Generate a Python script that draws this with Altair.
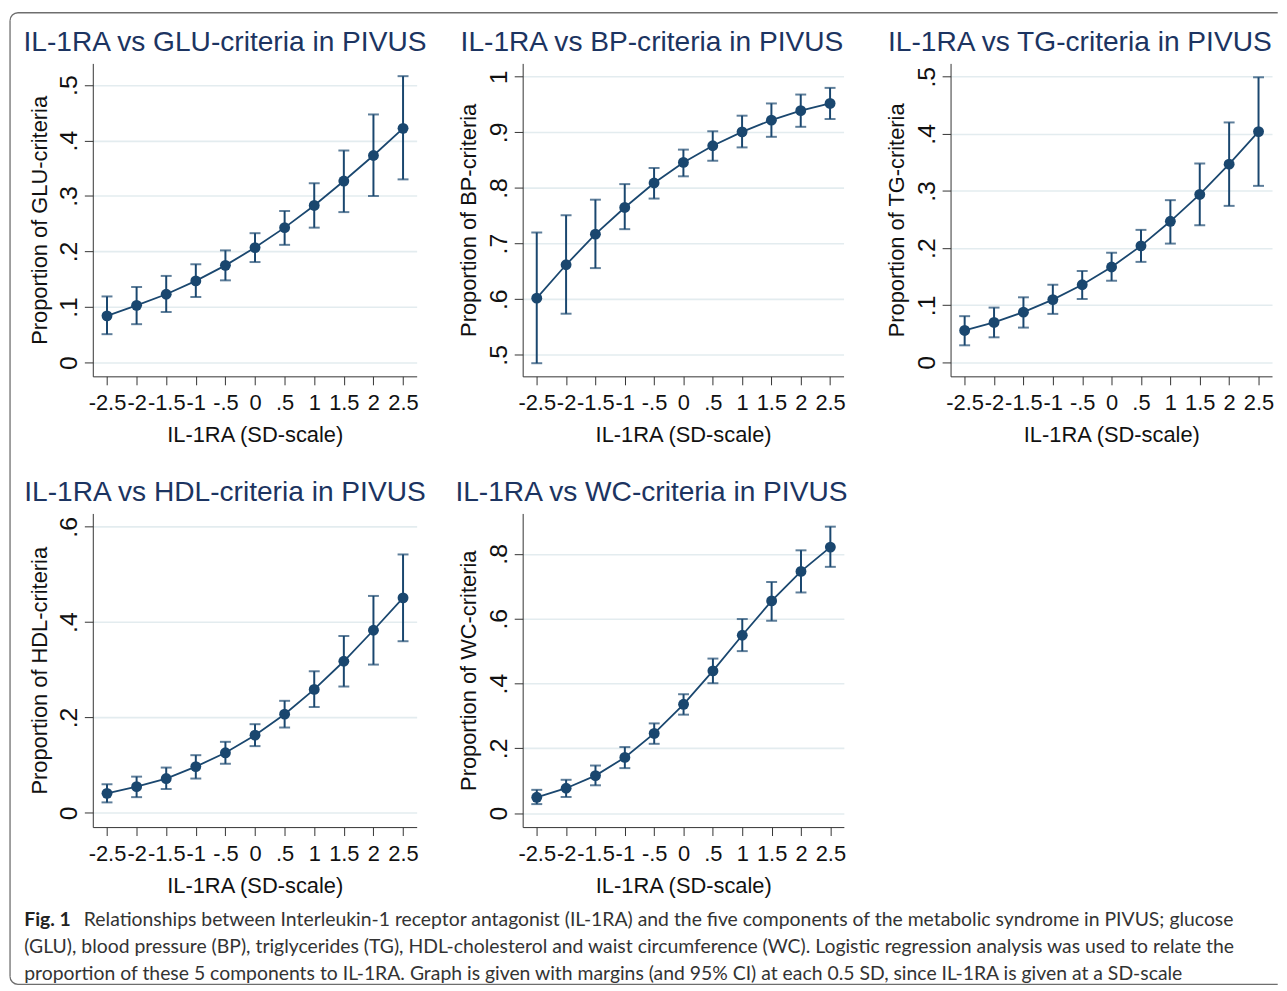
import math
import altair as alt
import pandas as pd

# ---------------- data ----------------
sd_levels = [-2.5, -2.0, -1.5, -1.0, -0.5, 0.0, 0.5, 1.0, 1.5, 2.0, 2.5]

glu_p  = [0.084, 0.103, 0.123, 0.147, 0.175, 0.207, 0.243, 0.283, 0.327, 0.373, 0.422]
glu_lo = [0.051, 0.069, 0.091, 0.118, 0.148, 0.181, 0.212, 0.243, 0.271, 0.300, 0.330]
glu_hi = [0.119, 0.136, 0.156, 0.177, 0.202, 0.233, 0.273, 0.323, 0.382, 0.447, 0.516]

bp_p  = [0.602, 0.662, 0.717, 0.765, 0.809, 0.846, 0.876, 0.901, 0.922, 0.939, 0.952]
bp_lo = [0.485, 0.574, 0.656, 0.726, 0.781, 0.821, 0.849, 0.873, 0.892, 0.910, 0.924]
bp_hi = [0.720, 0.751, 0.779, 0.807, 0.836, 0.869, 0.902, 0.930, 0.952, 0.968, 0.980]

tg_p  = [0.056, 0.070, 0.088, 0.110, 0.136, 0.167, 0.204, 0.247, 0.294, 0.347, 0.404]
tg_lo = [0.030, 0.044, 0.061, 0.085, 0.111, 0.143, 0.176, 0.208, 0.240, 0.274, 0.309]
tg_hi = [0.081, 0.096, 0.114, 0.136, 0.160, 0.192, 0.232, 0.284, 0.348, 0.420, 0.499]

hdl_p  = [0.041, 0.055, 0.072, 0.097, 0.126, 0.163, 0.207, 0.259, 0.318, 0.383, 0.451]
hdl_lo = [0.022, 0.033, 0.050, 0.072, 0.103, 0.140, 0.179, 0.222, 0.265, 0.311, 0.360]
hdl_hi = [0.060, 0.076, 0.095, 0.121, 0.149, 0.186, 0.235, 0.297, 0.371, 0.455, 0.542]

wc_p  = [0.049, 0.077, 0.116, 0.172, 0.246, 0.336, 0.439, 0.549, 0.655, 0.746, 0.821]
wc_lo = [0.028, 0.050, 0.086, 0.139, 0.214, 0.304, 0.401, 0.500, 0.594, 0.681, 0.760]
wc_hi = [0.072, 0.103, 0.147, 0.204, 0.277, 0.367, 0.477, 0.599, 0.713, 0.811, 0.884]

x_ticks = [-2.5, -2.0, -1.5, -1.0, -0.5, 0.0, 0.5, 1.0, 1.5, 2.0, 2.5]

caption_bold = "Fig. 1"
caption_lines = [
    "Relationships between Interleukin-1 receptor antagonist (IL-1RA) and the five components of the metabolic syndrome in PIVUS; glucose",
    "(GLU), blood pressure (BP), triglycerides (TG), HDL-cholesterol and waist circumference (WC). Logistic regression analysis was used to relate the",
    "proportion of these 5 components to IL-1RA. Graph is given with margins (and 95% CI) at each 0.5 SD, since IL-1RA is given at a SD-scale",
]

# ---------------- styling ----------------
NAVY = "#1a476f"
TITLE_COL = "#1c3461"
FONT = "Liberation Sans"
CAP_FONT = "Lato"
CAP_SIZE = 19.5
LABEL_EXPR = "(datum.value < 0 ? '-' : '') + replace('' + abs(datum.value), '0.', '.')"


def panel(name, p, lo, hi, y_domain, y_values, width, height, title_dx):
    df = pd.DataFrame({"x": sd_levels, "p": p, "lo": lo, "hi": hi})
    xaxis = alt.Axis(
        values=x_ticks, labelExpr=LABEL_EXPR, grid=False,
        labelFont=FONT, labelFontSize=22, labelColor="#111", labelPadding=8,
        labelOverlap=False, labelFlush=False,
        tickSize=8.5, tickColor="#333", domainColor="#333",
        title="IL-1RA (SD-scale)", titleFont=FONT, titleFontSize=22,
        titleFontWeight="normal", titleColor="#111", titlePadding=11.5,
    )
    yaxis = alt.Axis(
        values=y_values, labelExpr=LABEL_EXPR, grid=True, gridColor="#e3ecef", gridWidth=1.6,
        labelAngle=-90, labelFont=FONT, labelFontSize=25, labelColor="#111", labelPadding=2.5,
        labelOverlap=False, labelFlush=False,
        tickSize=8.5, tickColor="#333", domainColor="#333",
        title=f"Proportion of {name}-criteria", titleFont=FONT, titleFontSize=22,
        titleFontWeight="normal", titleColor="#111", titlePadding=6,
    )
    xs = alt.Scale(domain=[-2.74, 2.73], nice=False, zero=False)
    ys = alt.Scale(domain=y_domain, nice=False, zero=False)

    def X():
        return alt.X("x:Q", scale=xs, axis=xaxis, title="IL-1RA (SD-scale)")

    def Y(field):
        return alt.Y(f"{field}:Q", scale=ys, axis=yaxis, title=f"Proportion of {name}-criteria")

    base = alt.Chart(df)
    bars = base.mark_rule(color=NAVY, strokeWidth=2).encode(x=X(), y=Y("lo"), y2="hi:Q")
    cap_lo = base.mark_tick(color=NAVY, orient="horizontal", size=11, thickness=2).encode(x=X(), y=Y("lo"))
    cap_hi = base.mark_tick(color=NAVY, orient="horizontal", size=11, thickness=2).encode(x=X(), y=Y("hi"))
    line = base.mark_line(color=NAVY, strokeWidth=1.8).encode(x=X(), y=Y("p"))
    pts = base.mark_circle(color=NAVY, opacity=1, size=120).encode(x=X(), y=Y("p"))
    return alt.layer(bars, cap_lo, cap_hi, line, pts).properties(
        width=width, height=height,
        title=alt.TitleParams(
            f"IL-1RA vs {name}-criteria in PIVUS", anchor="start", frame="group",
            dx=title_dx, dy=27.4, font=FONT, fontSize=28.3, fontWeight="normal", color=TITLE_COL,
            baseline="alphabetic", offset=11.6,
        ),
    )


p_glu = panel("GLU", glu_p, glu_lo, glu_hi, [-0.025, 0.539], [0, 0.1, 0.2, 0.3, 0.4, 0.5], 326, 315, -69.8)
p_bp = panel("BP", bp_p, bp_lo, bp_hi, [0.4614, 1.024], [0.5, 0.6, 0.7, 0.8, 0.9, 1.0], 323, 315, -62.5)
p_tg = panel("TG", tg_p, tg_lo, tg_hi, [-0.0243, 0.5233], [0, 0.1, 0.2, 0.3, 0.4, 0.5], 323.6, 315, -63)
p_hdl = panel("HDL", hdl_p, hdl_lo, hdl_hi, [-0.0298, 0.628], [0, 0.2, 0.4, 0.6], 326, 315.7, -69)
p_wc = panel("WC", wc_p, wc_lo, wc_hi, [-0.0429, 0.9248], [0, 0.2, 0.4, 0.6, 0.8], 323.3, 315.7, -67.7)

empty = alt.Chart(pd.DataFrame({"k": [0]})).mark_point(opacity=0).encode(
    x=alt.value(0), y=alt.value(0)
).properties(width=1, height=1)

# ---------------- caption (row 3 of the grid) ----------------
ROW_GAP = 138.0
LEFT = 93.3                                    # screen x of the first column
ROW3_TOP = 63.3 + 315 + ROW_GAP + 315.7 + ROW_GAP   # where the grid puts the third row
CAP_TOP = 912.1                                # where the caption block should start
DY = CAP_TOP - ROW3_TOP

cap_df = pd.DataFrame({"line": [0, 1, 2], "text": caption_lines})
bold_df = pd.DataFrame({"line": [0], "text": [caption_bold]})
cap_y = alt.Y("line:O", axis=None, scale=alt.Scale(paddingInner=0, paddingOuter=0))

cap_first = alt.Chart(cap_df[cap_df.line == 0]).mark_text(
    align="left", baseline="middle", font=CAP_FONT, fontSize=CAP_SIZE, color="#333", dx=60, dy=DY
).encode(x=alt.value(-69), y=cap_y, text="text:N")
cap_rest = alt.Chart(cap_df[cap_df.line > 0]).mark_text(
    align="left", baseline="middle", font=CAP_FONT, fontSize=CAP_SIZE, color="#333", dy=DY
).encode(x=alt.value(-69), y=cap_y, text="text:N")
cap_bold = alt.Chart(bold_df).mark_text(
    align="left", baseline="middle", font=CAP_FONT, fontSize=CAP_SIZE, fontWeight="bold",
    color="#222", dy=DY
).encode(x=alt.value(-69), y=cap_y, text="text:N")

# figure frame (rounded on the left, running off the right edge)
one = pd.DataFrame({"k": [0]})
FR = dict(color="#6e6e6e", strokeWidth=1.3)
fx0, fy0, fy1, fxr, rad = 10, 12, 990, 1286, 8
top_rule = alt.Chart(one).mark_rule(**FR).encode(
    x=alt.value(fx0 + rad - LEFT), x2=alt.value(fxr - LEFT), y=alt.value(fy0 - ROW3_TOP))
bot_rule = alt.Chart(one).mark_rule(**FR).encode(
    x=alt.value(fx0 + rad - LEFT), x2=alt.value(fxr - LEFT), y=alt.value(fy1 - ROW3_TOP))
left_rule = alt.Chart(one).mark_rule(**FR).encode(
    x=alt.value(fx0 - LEFT), y=alt.value(fy0 + rad - ROW3_TOP), y2=alt.value(fy1 - rad - ROW3_TOP))
arc_tl = alt.Chart(one).mark_arc(color="#6e6e6e", radius=rad + 0.65, radius2=rad - 0.65).encode(
    x=alt.value(fx0 + rad - LEFT), y=alt.value(fy0 + rad - ROW3_TOP),
    theta=alt.value(1.5 * math.pi), theta2=alt.value(2 * math.pi))
arc_bl = alt.Chart(one).mark_arc(color="#6e6e6e", radius=rad + 0.65, radius2=rad - 0.65).encode(
    x=alt.value(fx0 + rad - LEFT), y=alt.value(fy1 - rad - ROW3_TOP),
    theta=alt.value(math.pi), theta2=alt.value(1.5 * math.pi))

caption = alt.layer(
    top_rule, bot_rule, left_rule, arc_tl, arc_bl, cap_bold, cap_first, cap_rest
).properties(width=326, height=81)

chart = alt.concat(
    p_glu, p_bp, p_tg, p_hdl, p_wc, empty, caption,
    columns=3, spacing={"row": ROW_GAP, "column": 106.7}, bounds="flush", align="each",
).configure_view(strokeWidth=0).properties(
    padding={"left": 1.35, "top": 0.35, "right": 0, "bottom": 0}
)

chart.save("out.html", embed_options={"renderer": "svg", "actions": False})
